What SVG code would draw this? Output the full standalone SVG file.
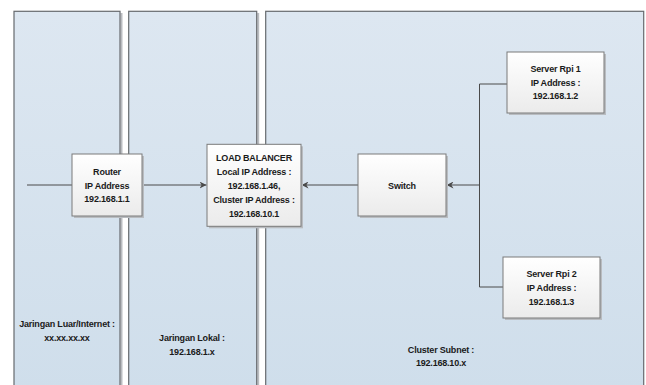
<svg xmlns="http://www.w3.org/2000/svg" width="646" height="385" viewBox="0 0 646 385">
<style>
.panel{fill:url(#pg);stroke:#666a6e;stroke-width:1.2}
.node{fill:url(#ng);stroke:#7a7a7a;stroke-width:1}
.sh{fill:#b9bcc0}
.t{font-family:"Liberation Sans",Arial,sans-serif;font-size:9px;letter-spacing:-0.2px;font-weight:bold;fill:#1a1a1a;text-anchor:middle}
.c{fill:none;stroke:#4a4a4a;stroke-width:1}
</style>
<defs>
<linearGradient id="pg" x1="0" y1="0" x2="0" y2="1">
<stop offset="0" stop-color="#dde7f1"/>
<stop offset="1" stop-color="#cfdeeb"/>
</linearGradient>
<linearGradient id="ng" x1="0" y1="0" x2="0" y2="1">
<stop offset="0" stop-color="#ffffff"/>
<stop offset="1" stop-color="#ebebeb"/>
</linearGradient>
<marker id="ah" viewBox="0 0 10 10" refX="10" refY="5" markerWidth="7" markerHeight="7" orient="auto" markerUnits="userSpaceOnUse">
<path d="M0,0 L10,5 L0,10 L3,5 Z" fill="#4a4a4a"/>
</marker>
</defs>
<rect width="646" height="385" fill="#ffffff"/>
<g id="panel-luar">
<rect class="sh" x="120.5" y="13" width="2" height="380"/>
<rect class="panel" x="14" y="11.3" width="106" height="380"/>
<text class="t" x="67" y="326.5">Jaringan Luar/Internet :</text>
<text class="t" x="67" y="340.5">xx.xx.xx.xx</text>
</g>
<g id="panel-lokal">
<rect class="sh" x="257.2" y="13" width="2" height="380"/>
<rect class="panel" x="128.7" y="11.3" width="128" height="380"/>
<text class="t" x="192" y="340.5">Jaringan Lokal :</text>
<text class="t" x="192" y="354.5">192.168.1.x</text>
</g>
<g id="panel-cluster">
<rect class="panel" x="265.7" y="11.3" width="378" height="380"/>
<text class="t" x="441" y="352.5">Cluster Subnet :</text>
<text class="t" x="441" y="366">192.168.10.x</text>
</g>
<g id="connectors">
<line class="c" x1="27" y1="185" x2="72" y2="185"/>
<line class="c" x1="142" y1="185" x2="206.5" y2="185" marker-end="url(#ah)"/>
<line class="c" x1="358" y1="185" x2="301.5" y2="185" marker-end="url(#ah)"/>
<polyline class="c" points="507,84 479.5,84 479.5,287 503,287"/>
<line class="c" x1="479.5" y1="185" x2="446.5" y2="185" marker-end="url(#ah)"/>
</g>
<g id="router">
<rect class="sh" x="74" y="156" width="70" height="62"/>
<rect class="node" x="72" y="154" width="70" height="62"/>
<text class="t" x="107" y="175">Router</text>
<text class="t" x="107" y="188.5">IP Address</text>
<text class="t" x="107" y="202">192.168.1.1</text>
</g>
<g id="load-balancer">
<rect class="sh" x="209" y="146.3" width="94" height="82"/>
<rect class="node" x="207" y="144.3" width="94" height="82"/>
<text class="t" x="254" y="161">LOAD BALANCER</text>
<text class="t" x="254" y="175.3">Local IP Address :</text>
<text class="t" x="254" y="189">192.168.1.46,</text>
<text class="t" x="254" y="203">Cluster IP Address :</text>
<text class="t" x="254" y="217">192.168.10.1</text>
</g>
<g id="switch">
<rect class="sh" x="360" y="156" width="88" height="62"/>
<rect class="node" x="358" y="154" width="88" height="62"/>
<text class="t" x="402" y="188.5">Switch</text>
</g>
<g id="server1">
<rect class="sh" x="509" y="54" width="97" height="61"/>
<rect class="node" x="507" y="52" width="97" height="61"/>
<text class="t" x="555.5" y="72">Server Rpi 1</text>
<text class="t" x="555.5" y="85.5">IP Address :</text>
<text class="t" x="555.5" y="98.8">192.168.1.2</text>
</g>
<g id="server2">
<rect class="sh" x="505" y="259" width="97" height="61"/>
<rect class="node" x="503" y="257" width="97" height="61"/>
<text class="t" x="551.5" y="276.8">Server Rpi 2</text>
<text class="t" x="551.5" y="290.8">IP Address :</text>
<text class="t" x="551.5" y="304.5">192.168.1.3</text>
</g>
</svg>
